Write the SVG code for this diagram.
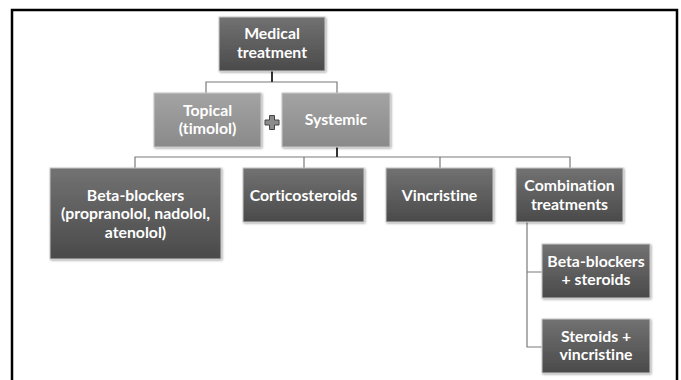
<svg xmlns="http://www.w3.org/2000/svg" width="681" height="380" viewBox="0 0 681 380">
<defs>
<linearGradient id="gDark" x1="0" y1="0" x2="0" y2="1">
<stop offset="0" stop-color="#727272"/>
<stop offset="1" stop-color="#4a4a4a"/>
</linearGradient>
<linearGradient id="gLight" x1="0" y1="0" x2="0" y2="1">
<stop offset="0" stop-color="#a3a3a3"/>
<stop offset="1" stop-color="#8a8a8a"/>
</linearGradient>
<filter id="sh" x="-10%" y="-10%" width="120%" height="120%">
<feDropShadow dx="1" dy="1" stdDeviation="0.8" flood-color="#000" flood-opacity="0.35"/>
</filter>
</defs>
<style>
.box{stroke:#c8c8c8;stroke-width:1;filter:url(#sh)}
.dark{fill:url(#gDark)}
.light{fill:url(#gLight)}
text{font-family:Lato,"Open Sans","Liberation Sans",sans-serif;font-weight:bold;font-size:15.8px;fill:#ffffff;text-anchor:middle;font-variant-ligatures:none;font-feature-settings:"liga" 0}
.ln{fill:none;stroke:#7a7a7a;stroke-width:1.2}
.lnd{fill:none;stroke:#333;stroke-width:2}
</style>
<rect x="0" y="0" width="681" height="380" fill="#ffffff"/>
<rect x="12" y="10" width="665" height="380" fill="none" stroke="#000" stroke-width="2.5"/>
<g id="connectors">
<path class="ln" d="M272 71V82M206 93V82H337V93"/>
<path class="lnd" d="M272 71V82"/>
<path class="ln" d="M135 168V157H570V168M304 157V168M440 157V168"/>
<path class="lnd" d="M337 147V157"/>
<path class="ln" d="M527 222V347H542M527 272H542"/>
</g>
<g id="medical">
<rect class="box dark" x="219" y="17" width="106" height="54"/>
<text x="272" y="39">Medical</text>
<text x="272" y="58">treatment</text>
</g>
<g id="topical">
<rect class="box light" x="154" y="93" width="107" height="54"/>
<text x="207.5" y="116">Topical</text>
<text x="207.5" y="134">(timolol)</text>
</g>
<g id="plus">
<path d="M269.5 115.5h5v4.5h4.5v5h-4.5v4.5h-5v-4.5h-4.5v-5h4.5z" fill="#8c8c8c" stroke="#444" stroke-width="1"/>
</g>
<g id="systemic">
<rect class="box light" x="282" y="93" width="108" height="54"/>
<text x="336" y="125">Systemic</text>
</g>
<g id="betablockers">
<rect class="box dark" x="50" y="168" width="171" height="91"/>
<text x="135.5" y="201">Beta-blockers</text>
<text x="135.5" y="219">(propranolol, nadolol,</text>
<text x="135.5" y="238">atenolol)</text>
</g>
<g id="corticosteroids">
<rect class="box dark" x="243" y="168" width="121" height="54"/>
<text x="303.5" y="201">Corticosteroids</text>
</g>
<g id="vincristine">
<rect class="box dark" x="386" y="168" width="107" height="54"/>
<text x="439.5" y="201">Vincristine</text>
</g>
<g id="combination">
<rect class="box dark" x="516" y="168" width="107" height="54"/>
<text x="569.5" y="191">Combination</text>
<text x="569.5" y="210">treatments</text>
</g>
<g id="bb-steroids">
<rect class="box dark" x="542" y="244" width="108" height="54"/>
<text x="596" y="267">Beta-blockers</text>
<text x="596" y="285">+ steroids</text>
</g>
<g id="steroids-vinc">
<rect class="box dark" x="542" y="319" width="108" height="54"/>
<text x="596" y="342">Steroids +</text>
<text x="596" y="360">vincristine</text>
</g>
</svg>
